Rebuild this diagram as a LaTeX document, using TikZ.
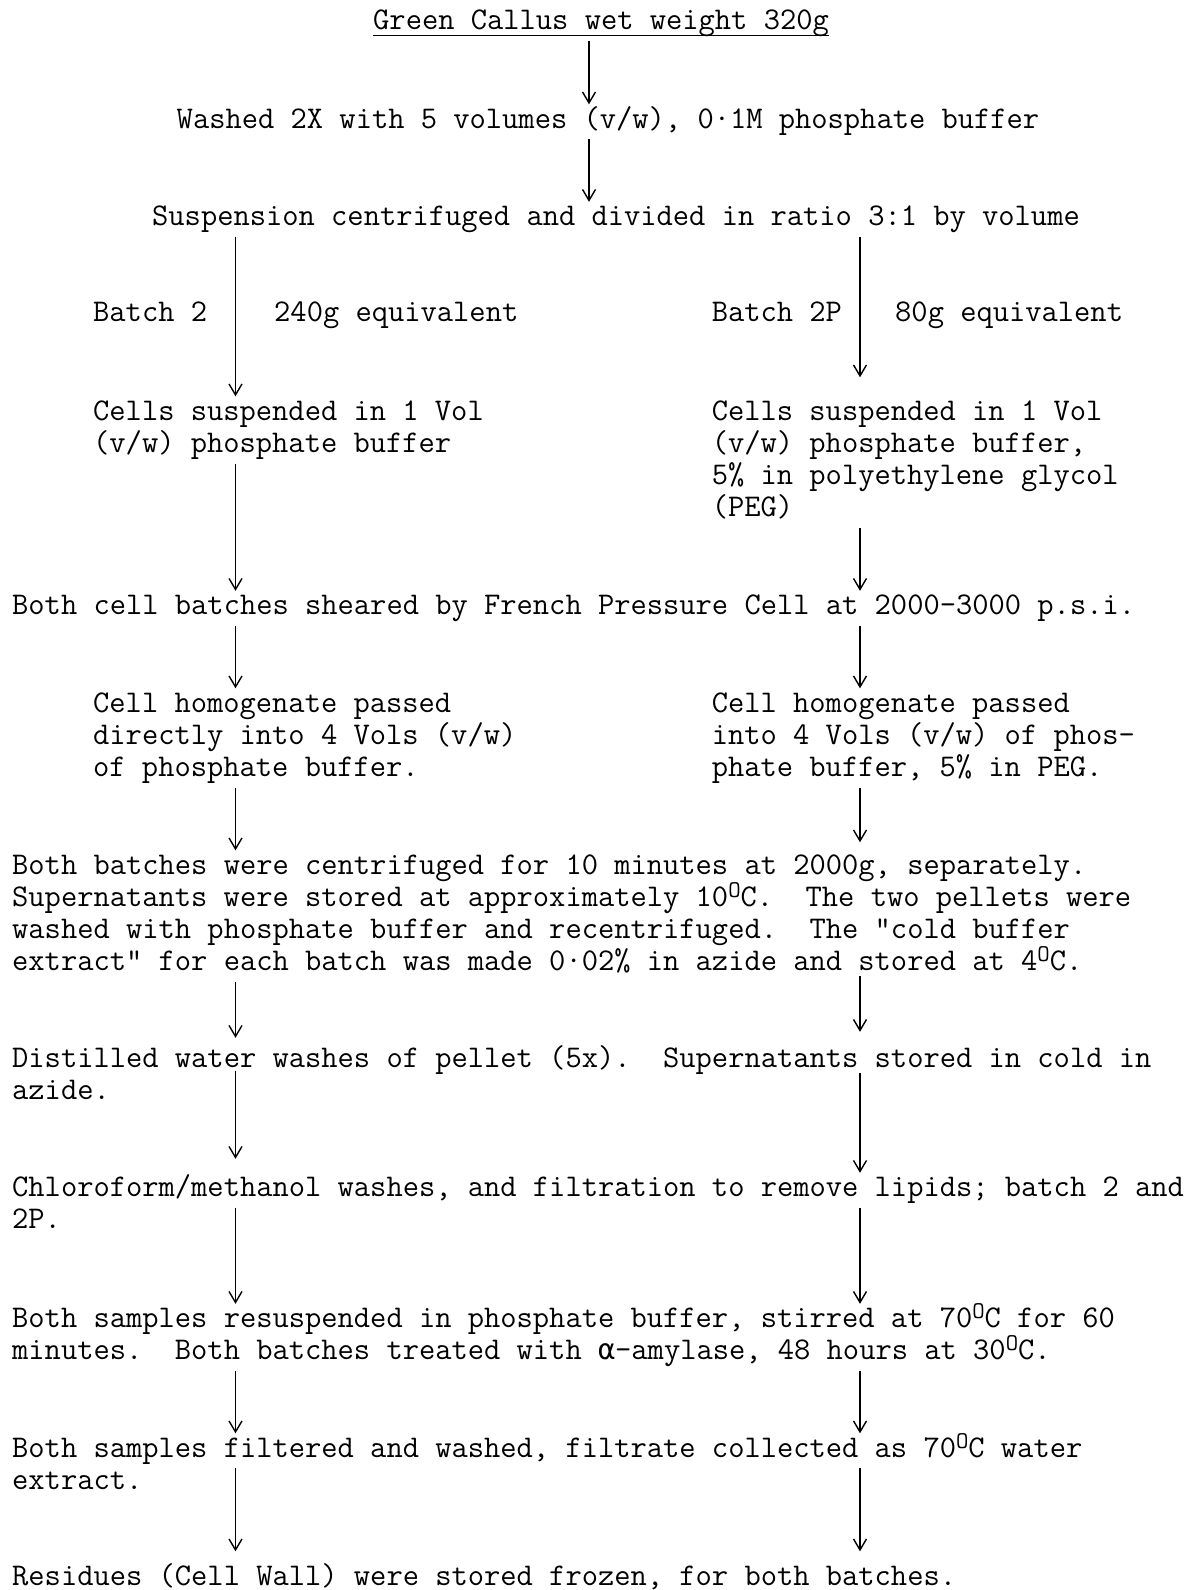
\documentclass[tikz,border=0pt]{standalone}
\usepackage{fontspec}
\usetikzlibrary{arrows.meta}
\newfontfamily\greekmono{DejaVu Sans Mono}[Scale=0.9]
\newcommand\supO{\raisebox{9pt}{\fontsize{24}{24}\selectfont O}}
\frenchspacing

\begin{document}
\begin{tikzpicture}[
        x=1pt, y=-1pt,
        font=\fontsize{31.6}{32.3}\selectfont\ttfamily,
        txt/.style={
            anchor=base west,
            inner xsep=0pt, inner ysep=4pt,
            text height=19.5pt, text depth=7pt
        },
        arrow/.style={
            -{Straight Barb[length=11pt, width=13pt]},
            line width=1.4pt
        },
        rule/.style={line width=1.6pt}
    ]
    \useasboundingbox (0,0) rectangle (1188,1590);

    % columns of the arrows
    \coordinate (colC) at (589,0);
    \coordinate (colL) at (235.5,0);
    \coordinate (colR) at (860,0);

    \node[txt] (title) at (373,29.5) {Green Callus wet weight 320g};
    \node[txt, anchor=base] (wash) at (608,128) {Washed 2X with 5 volumes (v/w), 0·1M phosphate buffer};
    \node[txt] (split) at (152,225.5) {Suspension centrifuged and divided in ratio 3:1 by volume};

    \node[txt] (batchL) at (93,321.5) {Batch 2};
    \node[txt] (eqL) at (274,321.5) {240g equivalent};
    \node[txt] (batchR) at (711.6,321.5) {Batch 2P};
    \node[txt] (eqR) at (895,321.5) {80g equivalent};

    \node[txt] (cellsL1) at (93,420) {Cells suspended in 1 Vol};
    \node[txt] (cellsL2) at (93,452.3) {(v/w) phosphate buffer};
    \node[txt] (cellsR1) at (711.6,420) {Cells suspended in 1 Vol};
    \node[txt] (cellsR2) at (711.6,452.3) {(v/w) phosphate buffer,};
    \node[txt] (cellsR3) at (711.6,484.6) {5\% in polyethylene glycol};
    \node[txt] (cellsR4) at (711.6,516.9) {(PEG)};

    \node[txt] (shear) at (12,614.5) {Both cell batches sheared by French Pressure Cell at 2000-3000 p.s.i.};

    \node[txt] (homL1) at (93,712) {Cell homogenate passed};
    \node[txt] (homL2) at (93,744.3) {directly into 4 Vols (v/w)};
    \node[txt] (homL3) at (93,776.6) {of phosphate buffer.};
    \node[txt] (homR1) at (711.6,712) {Cell homogenate passed};
    \node[txt] (homR2) at (711.6,744.3) {into 4 Vols (v/w) of phos-};
    \node[txt] (homR3) at (711.6,776.6) {phate buffer, 5\% in PEG.};

    \node[txt] (cent1) at (12,874) {Both batches were centrifuged for 10 minutes at 2000g, separately.};
    \node[txt] (cent2) at (12,906.3) {Supernatants were stored at approximately 10\supO C.~ The two pellets were};
    \node[txt] (cent3) at (12,938.6) {washed with phosphate buffer and recentrifuged.~ The "cold buffer};
    \node[txt] (cent4) at (12,970.9) {extract" for each batch was made 0·02\% in azide and stored at 4\supO C.};

    \node[txt] (dist1) at (12,1067.5) {Distilled water washes of pellet (5x).~ Supernatants stored in cold in};
    \node[txt] (dist2) at (12,1099.8) {azide.};

    \node[txt] (chl1) at (12,1196.5) {Chloroform/methanol washes, and filtration to remove lipids; batch 2 and};
    \node[txt] (chl2) at (12,1228.8) {2P.};

    \node[txt] (resus1) at (12,1327.5) {Both samples resuspended in phosphate buffer, stirred at 70\supO C for 60};
    \node[txt] (resus2) at (12,1359.8) {minutes.~ Both batches treated with {\greekmono α}-amylase, 48 hours at 30\supO C.};

    \node[txt] (filt1) at (12,1457) {Both samples filtered and washed, filtrate collected as 70\supO C water};
    \node[txt] (filt2) at (12,1489.3) {extract.};

    \node[txt] (resid) at (12,1585) {Residues (Cell Wall) were stored frozen, for both batches.};

    \draw[rule] ([yshift=-6pt]title.base west) -- ([yshift=-6pt]title.base east);

    % single stream
    \draw[arrow] (title.south -| colC) -- (wash.north -| colC);
    \draw[arrow] (wash.south -| colC) -- (split.north -| colC);

    % batch 2
    \draw[arrow] (split.south -| colL) -- (cellsL1.north -| colL);
    \draw[arrow] (cellsL2.south -| colL) -- (shear.north -| colL);
    \draw[arrow] (shear.south -| colL) -- (homL1.north -| colL);
    \draw[arrow] (homL3.south -| colL) -- (cent1.north -| colL);
    \draw[arrow, shorten >=6pt] (cent4.south -| colL) -- (dist1.north -| colL);
    \draw[arrow, shorten <=-8pt, shorten >=14pt] (dist1.south -| colL) -- (chl1.north -| colL);
    \draw[arrow] (chl1.south -| colL) -- (resus1.north -| colL);
    \draw[arrow] (resus2.south -| colL) -- (filt1.north -| colL);
    \draw[arrow, shorten >=10pt] (filt1.south -| colL) -- (resid.north -| colL);

    % batch 2P
    \draw[arrow, shorten >=19pt] (split.south -| colR) -- (cellsR1.north -| colR);
    \draw[arrow] (cellsR4.south -| colR) -- (shear.north -| colR);
    \draw[arrow] (shear.south -| colR) -- (homR1.north -| colR);
    \draw[arrow, shorten >=8pt] (homR3.south -| colR) -- (cent1.north -| colR);
    \draw[arrow, shorten <=-6pt, shorten >=12pt] (cent4.south -| colR) -- (dist1.north -| colR);
    \draw[arrow, shorten <=-6pt] (dist1.south -| colR) -- (chl1.north -| colR);
    \draw[arrow] (chl1.south -| colR) -- (resus1.north -| colR);
    \draw[arrow] (resus2.south -| colR) -- (filt1.north -| colR);
    \draw[arrow, shorten >=10pt] (filt1.south -| colR) -- (resid.north -| colR);

\end{tikzpicture}
\end{document}
